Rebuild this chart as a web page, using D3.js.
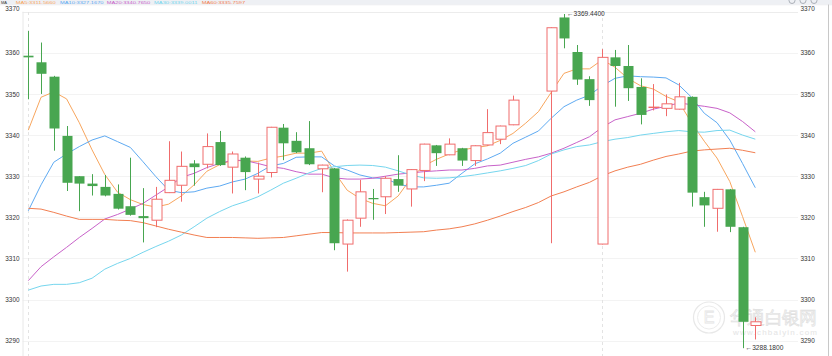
<!DOCTYPE html>
<html><head><meta charset="utf-8">
<script src="https://cdn.jsdelivr.net/npm/d3@7/dist/d3.min.js"></script>
<style>
html,body{margin:0;padding:0;background:#fff;overflow:hidden}
svg{display:block}
text{font-family:"Liberation Sans",Arial,Helvetica,sans-serif}
</style>
</head><body>
<svg id="c" width="832" height="356"></svg>
<script>
// ---- data ----
const open = [
3359.3,3357.7,3354.2,3339.8,3330.0,3328.2,3327.4,3325.7,3322.7,3320.3,
3319.3,3326.0,3327.8,3333.1,3332.9,3338.3,3332.2,3334.5,3329.3,3330.9,
3341.8,3338.6,3336.8,3331.8,3331.9,3313.5,3319.8,3324.7,3325.0,3329.3,
3326.9,3331.4,3337.5,3335.2,3336.8,3333.8,3337.6,3339.0,3342.5,3348.4,
3348.4,3350.7,3368.6,3360.2,3353.6,3313.5,3358.9,3356.8,3351.7,3346.7,
3346.5,3346.3,3349.3,3324.9,3322.2,3326.8,3317.6,3293.7];
const close = [
3358.9,3354.9,3341.6,3328.4,3328.2,3327.6,3325.3,3322.1,3320.6,3319.8,
3324.4,3329.0,3332.4,3332.2,3337.2,3332.7,3335.4,3331.0,3330.0,3341.9,
3338.0,3335.8,3332.9,3332.7,3313.7,3319.3,3326.2,3324.4,3329.5,3327.7,
3331.6,3337.8,3335.6,3337.8,3333.8,3337.4,3340.6,3342.2,3348.5,3348.4,
3348.4,3366.1,3363.5,3353.5,3348.5,3358.9,3356.8,3351.4,3344.9,3346.8,
3347.6,3349.3,3326.0,3322.9,3326.8,3317.7,3294.6,3294.6];
const high = [
3365.3,3362.5,3354.4,3342.2,3330.0,3330.5,3330.3,3328.0,3334.5,3327.1,
3327.4,3338.5,3336.0,3333.9,3340.4,3341.0,3336.0,3334.8,3333.3,3342.0,
3342.7,3340.7,3343.4,3332.8,3332.0,3319.5,3329.1,3326.9,3330.0,3335.1,
3331.7,3337.9,3337.6,3339.2,3336.9,3337.5,3346.3,3342.3,3349.6,3348.4,
3348.4,3366.2,3369.44,3361.9,3354.3,3360.9,3360.7,3361.9,3353.8,3352.4,
3349.9,3352.7,3349.4,3326.2,3326.9,3326.9,3317.7,3295.7];
const low = [
3348.7,3350.0,3336.2,3326.4,3321.5,3325.3,3325.1,3321.9,3320.4,3313.9,
3317.6,3325.9,3323.8,3327.7,3331.9,3332.5,3325.8,3326.6,3325.8,3329.7,
3333.9,3335.6,3332.7,3326.1,3312.0,3306.8,3317.7,3319.4,3320.8,3326.2,
3322.6,3328.8,3332.5,3335.1,3332.5,3332.5,3337.4,3337.8,3342.4,3348.4,
3348.4,3313.7,3361.1,3352.2,3347.1,3313.4,3346.9,3348.3,3342.6,3346.0,
3344.6,3346.2,3322.6,3317.7,3316.5,3316.4,3288.18,3290.3];
const ma5 = [
3341.2,3349.2,3350.5,3348.8,3343.0,3336.4,3330.4,3326.1,3324.3,3323.1,
3322.5,3323.2,3325.2,3327.9,3331.2,3332.8,3333.9,3333.7,3333.6,3334.4,
3334.9,3335.6,3335.6,3336.1,3331.0,3326.6,3324.6,3323.4,3322.8,3325.2,
3329.5,3332.5,3334.1,3335.4,3336.4,3336.9,3337.4,3338.7,3340.4,3342.9,
3345.7,3350.4,3355.0,3356.1,3356.1,3358.3,3356.5,3353.8,3352.0,3351.2,
3349.4,3348.1,3343.0,3338.5,3334.4,3328.7,3320.2,3311.5];
const ma10 = [
3321.6,3327.9,3333.4,3335.4,3337.2,3338.8,3339.8,3338.4,3337.0,3333.5,
3329.9,3326.6,3326.0,3326.2,3327.1,3327.6,3328.6,3329.3,3330.7,3332.5,
3333.1,3334.6,3334.7,3334.7,3332.5,3331.5,3330.3,3329.6,3329.4,3328.1,
3327.4,3327.4,3327.8,3328.3,3330.7,3333.0,3334.2,3335.6,3338.0,3339.5,
3341.0,3344.1,3346.9,3348.5,3349.7,3352.0,3353.8,3354.4,3354.2,3354.1,
3353.9,3352.2,3349.2,3345.3,3343.0,3338.8,3333.1,3327.2];
const ma20 = [
3304.6,3308.0,3310.4,3312.7,3315.1,3317.3,3319.6,3320.7,3322.0,3323.4,
3325.4,3327.4,3329.7,3330.7,3332.1,3333.1,3333.9,3333.8,3333.1,3332.3,
3331.9,3331.1,3330.5,3330.5,3329.6,3329.3,3329.3,3329.5,3330.0,3330.5,
3330.8,3331.1,3331.3,3331.5,3331.5,3331.9,3332.5,3332.7,3333.4,3334.1,
3334.7,3335.6,3336.8,3338.2,3339.6,3341.9,3343.7,3344.5,3345.3,3346.3,
3347.0,3347.8,3347.4,3347.0,3346.5,3345.4,3343.3,3340.8];
const ma30 = [
3302.3,3303.3,3303.7,3303.7,3304.1,3305.2,3307.4,3308.8,3310.0,3311.5,
3312.9,3314.2,3315.7,3317.7,3319.8,3321.4,3322.8,3323.8,3325.0,3326.6,
3328.3,3329.5,3330.8,3331.9,3332.3,3332.6,3332.7,3332.6,3332.2,3331.3,
3330.3,3329.6,3329.5,3329.6,3329.9,3330.3,3330.8,3331.3,3331.9,3332.6,
3333.8,3335.4,3336.4,3337.2,3337.6,3338.4,3339.0,3339.4,3340.0,3340.4,
3340.8,3341.1,3340.8,3340.7,3341.1,3341.2,3340.0,3339.0];
const ma60 = [
3322.2,3322.0,3321.2,3320.3,3319.5,3319.5,3319.5,3319.3,3319.2,3318.7,
3317.9,3317.1,3316.4,3315.7,3315.1,3315.1,3315.1,3315.0,3314.9,3315.0,
3315.1,3315.5,3315.9,3316.3,3316.3,3316.2,3316.2,3316.2,3316.2,3316.3,
3316.4,3316.5,3316.9,3317.2,3317.7,3318.4,3319.3,3320.3,3321.4,3322.4,
3323.6,3325.2,3326.2,3327.4,3328.5,3330.1,3331.3,3332.2,3332.9,3333.9,
3334.8,3335.4,3336.1,3336.4,3336.6,3336.8,3336.3,3335.7];
const yTicks = [3290,3300,3310,3320,3330,3340,3350,3360,3370];
const maNames = ["MA5","MA10","MA20","MA30","MA60"];
const maLegendValues = ["3311.5660","3327.1670","3340.7650","3339.0011","3335.7597"];
const maxLabel = "3369.4400";
const minLabel = "3288.1800";
const dayMarks = [0,45];
const watermark = "华通白银网";
const watermarkUrl = "www.chbaiyin.com";

// ---- styles ----
const maSeries = [ma5, ma10, ma20, ma30, ma60];
const maColors = ["#f8a65e","#5eaaf2","#c862c9","#76d6ee","#f27f52"];
const UP = "#f06c6c", DOWN = "#48a650";

const svg = d3.select("#c");
const n = open.length;
const x = d3.scalePoint().domain(d3.range(n)).range([28.3, 755.3]);
const y = d3.scaleLinear().domain([3290, 3370]).range([340.7, 11.7]);
const plotL = 22.5, plotR = 798;

// top legend strip
svg.append("rect").attr("x",0).attr("y",0).attr("width",832).attr("height",4.6).attr("fill","#eef0f4");
svg.append("line").attr("x1",0).attr("x2",832).attr("y1",4.85).attr("y2",4.85).attr("stroke","#e2e5ea").attr("stroke-width",0.5);
svg.append("text").attr("x",1).attr("y",3.7).attr("font-size",4).attr("fill","#333").text("MA");
const legX = [15.7,60,106.7,154,201.7];
maNames.forEach((m,k)=>{
  svg.append("text").attr("x",legX[k]).attr("y",3.7).attr("font-size",4)
    .attr("fill",maColors[k]).attr("textLength", k===0?40:43.5).attr("lengthAdjust","spacingAndGlyphs")
    .text(m+":"+maLegendValues[k]);
});
// window icons (top right)
[792,803,814].forEach(cx=>svg.append("circle").attr("cx",cx).attr("cy",0.5).attr("r",3).attr("fill","none").attr("stroke","#9aa0a8").attr("stroke-width",0.8));

// right frame
svg.append("line").attr("x1",828.5).attr("x2",828.5).attr("y1",4.5).attr("y2",356).attr("stroke","#c8c8c8");

// gridlines
svg.append("g").selectAll("line").data(yTicks).join("line")
  .attr("x1",plotL).attr("x2",plotR).attr("y1",d=>Math.round(y(d))+0.5).attr("y2",d=>Math.round(y(d))+0.5)
  .attr("stroke",d=>d===3370?"#ececec":"#f3f3f3").attr("stroke-width",1);
svg.append("line").attr("x1",plotL+0.5).attr("x2",plotL+0.5).attr("y1",11.7).attr("y2",356).attr("stroke","#e8e8e8");

// day separators
svg.append("g").selectAll("line").data(dayMarks).join("line")
  .attr("x1",d=>Math.round(x(d))+0.5).attr("x2",d=>Math.round(x(d))+0.5).attr("y1",12).attr("y2",356)
  .attr("stroke","#e3e3e3").attr("stroke-dasharray","3,3");

// axes
const axL = svg.append("g").attr("transform","translate(19.5,0)")
  .call(d3.axisLeft(y).tickValues(yTicks).tickSize(0).tickPadding(0).tickFormat(d3.format("d")));
const axR = svg.append("g").attr("transform","translate(800.5,0)")
  .call(d3.axisRight(y).tickValues(yTicks).tickSize(0).tickPadding(0).tickFormat(d3.format("d")));
[axL,axR].forEach(a=>{
  a.select(".domain").remove();
  a.selectAll("text").attr("font-size",6.4).attr("fill","#333")
   .attr("font-family",'"Liberation Sans",Arial,sans-serif')
   .attr("dy",d=>d===3370?"-0.22em":"0.32em");
});

// watermark
const wm = svg.append("g").attr("opacity",0.9);
wm.append("circle").attr("cx",709).attr("cy",317.5).attr("r",15.5).attr("fill","none").attr("stroke","#e6e6e6").attr("stroke-width",1.2);
wm.append("circle").attr("cx",709).attr("cy",317.5).attr("r",11.5).attr("fill","none").attr("stroke","#ebebeb").attr("stroke-width",1);
wm.append("text").attr("x",709).attr("y",323).attr("text-anchor","middle").attr("font-size",16).attr("fill","none").attr("stroke","#e4e4e4").attr("stroke-width",0.8).text("E");
wm.append("text").attr("x",730).attr("y",324).attr("font-size",17.5)
  .attr("font-family",'"Noto Sans CJK SC",sans-serif').attr("fill","#f4f4f4").attr("stroke","#dcdcdc").attr("stroke-width",0.6)
  .attr("textLength",87).text(watermark);
wm.append("text").attr("x",733).attr("y",334.5).attr("font-size",8).attr("fill","#e2e2e2")
  .attr("textLength",84).text(watermarkUrl);

// MA lines
maSeries.forEach((s,k)=>{
  svg.append("path").datum(s)
    .attr("d", d3.line().x((v,i)=>x(i)).y(v=>y(v)))
    .attr("fill","none").attr("stroke",maColors[k]).attr("stroke-width",1);
});

// candles
const idx = d3.range(n);
const g = svg.append("g");
const isUp = i => close[i] >= open[i];
g.selectAll("line.w").data(idx).join("line").attr("class","w")
  .attr("x1",i=>Math.round(x(i))+0.5).attr("x2",i=>Math.round(x(i))+0.5)
  .attr("y1",i=>y(high[i])).attr("y2",i=>y(low[i]))
  .attr("stroke",i=>isUp(i)?UP:DOWN).attr("stroke-width",1);
g.selectAll("rect.b").data(idx).join("rect").attr("class","b")
  .attr("x",i=>isUp(i)?Math.round(x(i))-4:Math.round(x(i))-4.5)
  .attr("width",10)
  .attr("y",i=>y(Math.max(open[i],close[i])))
  .attr("height",i=>Math.max(isUp(i)?0:1.2, y(Math.min(open[i],close[i]))-y(Math.max(open[i],close[i]))))
  .attr("fill",i=>isUp(i)?"#fff":DOWN)
  .attr("stroke",i=>isUp(i)?UP:"none").attr("stroke-width",1);

// max / min annotations
const iMax = d3.maxIndex(high), iMin = d3.minIndex(low);
svg.append("text").attr("x",x(iMax)+3).attr("y",y(high[iMax])+2.2).attr("font-size",6.6).attr("fill","#333").text("←"+maxLabel);
svg.append("text").attr("x",x(iMin)+3).attr("y",y(low[iMin])+2.2).attr("font-size",6.6).attr("fill","#333").text("←"+minLabel);
</script>
</body></html>
